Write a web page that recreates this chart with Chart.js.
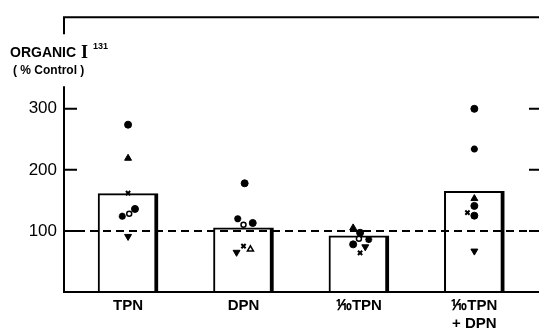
<!DOCTYPE html>
<html>
<head>
<meta charset="utf-8">
<script src="https://cdn.jsdelivr.net/npm/chart.js@4.4.0/dist/chart.umd.min.js"></script>
<style>
html,body{margin:0;padding:0;background:#fff;overflow:hidden;}
#wrap{width:539px;height:335px;position:relative;}
</style>
</head>
<body>
<div id="wrap"><canvas id="c"></canvas></div>
<script>
// ---- data ----
const categories = ["TPN", "DPN", "\u2152TPN", ["\u2152TPN", "+ DPN"]];
const barMeans = [161, 105, 92, 165];          // bar heights, % control
const controlLevel = 100;                       // dashed reference line
const yTickValues = [100, 200, 300];

// individual experiments: [category index (1-based), value, small horizontal jitter in category units]
const filledCircles = [[1, 274, 0], [1, 136, 0.06], [2, 178, 0.01], [2, 113, 0.08], [3, 97, 0.01], [3, 78, -0.05], [4, 300, 0], [4, 141, 0], [4, 125, 0]];
const filledTriangles = [[1, 219, 0], [3, 105, -0.05], [4, 153, 0]];
const crosses = [[1, 162, 0], [2, 75, 0], [3, 64, 0.01], [4, 130, -0.06]];
const openCircles = [[1, 128, 0.01], [2, 110, 0], [3, 87, 0]];
const stars = [[1, 124, -0.05], [2, 120, -0.05], [3, 86, 0.085], [4, 234, 0]];
const downTriangles = [[1, 91, 0], [2, 65, -0.06], [3, 74, 0.055], [4, 67, 0]];
const openTriangles = [[2, 70, 0.06]];

const toPts = arr => arr.map(p => ({x: p[0] + p[2], y: p[1]}));

function pointSet(arr, style, opts) {
  return Object.assign({
    type: 'scatter',
    data: toPts(arr),
    pointStyle: style,
    backgroundColor: '#000',
    borderColor: '#000',
    borderWidth: 1,
    pointRadius: 3,
    order: 0
  }, opts || {});
}

const framePlugin = {
  id: 'frame',
  afterDatasetsDraw(chart) {
    const ctx = chart.ctx;
    const a = chart.chartArea;
    const y = chart.scales.y;
    ctx.save();
    ctx.strokeStyle = '#000';
    // dashed control line
    ctx.lineWidth = 2;
    ctx.setLineDash([8, 5]);
    ctx.beginPath();
    const yc = y.getPixelForValue(controlLevel);
    ctx.moveTo(a.left, yc);
    ctx.lineTo(a.right, yc);
    ctx.stroke();
    ctx.setLineDash([]);
    // frame: top, bottom, left axis with a gap for the title
    ctx.lineWidth = 2;
    ctx.beginPath();
    ctx.moveTo(a.left, a.top); ctx.lineTo(a.right, a.top);
    ctx.moveTo(a.left - 1, a.bottom); ctx.lineTo(a.right, a.bottom);
    ctx.moveTo(a.left, a.top - 1); ctx.lineTo(a.left, y.getPixelForValue(422));
    ctx.moveTo(a.left, y.getPixelForValue(337)); ctx.lineTo(a.left, a.bottom);
    ctx.stroke();
    // inward tick marks on both sides
    yTickValues.forEach(v => {
      const py = y.getPixelForValue(v);
      ctx.beginPath();
      ctx.moveTo(a.left, py); ctx.lineTo(a.left + 13, py);
      ctx.moveTo(a.right - 10, py); ctx.lineTo(a.right, py);
      ctx.stroke();
    });
    // axis title
    ctx.fillStyle = '#000';
    ctx.textBaseline = 'alphabetic';
    ctx.textAlign = 'left';
    ctx.font = 'bold 14px "Liberation Sans", Arial, sans-serif';
    ctx.fillText('ORGANIC', 10, 57);
    ctx.font = 'bold 18px "Liberation Serif", "Times New Roman", serif';
    ctx.fillText('I', 81, 58);
    ctx.font = 'bold 9px "Liberation Sans", Arial, sans-serif';
    ctx.fillText('131', 93, 49);
    ctx.font = 'bold 12px "Liberation Sans", Arial, sans-serif';
    ctx.fillText('( % Control )', 13, 74);
    ctx.restore();
  }
};

new Chart(document.getElementById('c'), {
  type: 'bar',
  data: {
    datasets: [
      pointSet(filledCircles, 'circle', {pointRadius: 3.5}),
      pointSet(filledTriangles, 'triangle', {pointRadius: 4}),
      pointSet(crosses, 'crossRot', {pointRadius: 3, borderWidth: 2}),
      pointSet(openCircles, 'circle', {pointRadius: 2.5, backgroundColor: '#fff', borderWidth: 1.5}),
      pointSet(stars, 'star', {pointRadius: 3.5, borderWidth: 2.2}),
      pointSet(downTriangles, 'triangle', {pointRadius: 4, rotation: 180}),
      pointSet(openTriangles, 'triangle', {pointRadius: 3.5, backgroundColor: '#fff', borderWidth: 1.5}),
      {
        type: 'bar',
        data: barMeans.map((v, i) => ({x: i + 1, y: v})),
        backgroundColor: '#fff',
        borderColor: '#000',
        borderWidth: {left: 2, top: 2, right: 4, bottom: 0},
        borderSkipped: 'start',
        barThickness: 60,
        order: 10
      }
    ]
  },
  options: {
    responsive: true,
    maintainAspectRatio: false,
    animation: false,
    events: [],
    layout: {autoPadding: false, padding: {top: 16, right: 0, bottom: 0, left: 0}},
    plugins: {legend: {display: false}, tooltip: {enabled: false}, title: {display: false}},
    scales: {
      x: {
        type: 'linear',
        offset: false,
        min: 0.445,
        max: 4.56,
        grid: {display: false, drawTicks: false},
        border: {display: false},
        afterBuildTicks: s => { s.ticks = categories.map((c, i) => ({value: i + 1})); },
        afterFit: s => { s.height = 43; s.paddingLeft = 0; s.paddingRight = 0; },
        ticks: {
          autoSkip: false,
          maxRotation: 0,
          padding: 5,
          color: '#000',
          font: {family: '"Liberation Sans", Arial, sans-serif', size: 15, weight: 'bold'},
          callback: v => categories[Math.round(v) - 1]
        }
      },
      y: {
        min: 0,
        max: 450,
        grid: {display: false, drawTicks: false},
        border: {display: false},
        afterBuildTicks: s => { s.ticks = yTickValues.map(v => ({value: v})); },
        afterFit: s => { s.width = 64; },
        ticks: {
          padding: 7,
          color: '#000',
          font: {family: '"Liberation Sans", Arial, sans-serif', size: 17},
          callback: v => String(v)
        }
      }
    }
  },
  plugins: [framePlugin]
});
</script>
</body>
</html>
